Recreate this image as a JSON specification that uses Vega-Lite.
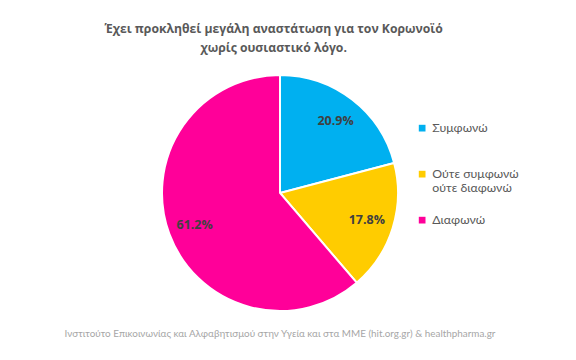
{
  "$schema": "https://vega.github.io/schema/vega-lite/v6.json",
  "padding": {"left": 64, "top": 22, "right": 0, "bottom": 0},
  "title": {
    "text": ["Έχει προκληθεί μεγάλη αναστάτωση για τον Κορωνοϊό", "χωρίς ουσιαστικό λόγο."],
    "font": "Open Sans",
    "fontSize": 12.2,
    "fontWeight": "bold",
    "color": "#595959",
    "lineHeight": 19,
    "anchor": "middle",
    "offset": 17,
    "dx": -18
  },
  "data": {
    "values": [
      {"answer": "Συμφωνώ", "pct": 20.9, "label": "20.9%", "order": 1, "src": "Ινστιτούτο Επικοινωνίας και Αλφαβητισμού στην Υγεία και στα ΜΜΕ (hit.org.gr) & healthpharma.gr"},
      {"answer": "Ούτε συμφωνώ ούτε διαφωνώ", "pct": 17.8, "label": "17.8%", "order": 2, "src": "Ινστιτούτο Επικοινωνίας και Αλφαβητισμού στην Υγεία και στα ΜΜΕ (hit.org.gr) & healthpharma.gr"},
      {"answer": "Διαφωνώ", "pct": 61.2, "label": "61.2%", "order": 3, "src": "Ινστιτούτο Επικοινωνίας και Αλφαβητισμού στην Υγεία και στα ΜΜΕ (hit.org.gr) & healthpharma.gr"}
    ]
  },
  "facet": {
    "column": {
      "field": "src",
      "type": "nominal",
      "header": {
        "title": null,
        "labelOrient": "bottom",
        "labelFont": "Lato",
        "labelFontSize": 9.9,
        "labelColor": "#A6A6A6",
        "labelPadding": 14,
        "labelLimit": 600
      }
    }
  },
  "spec": {
    "width": 236,
    "height": 236,
    "encoding": {
      "theta": {"field": "pct", "type": "quantitative", "stack": true},
      "order": {"field": "order", "type": "quantitative"},
      "color": {
        "field": "answer",
        "type": "nominal",
        "scale": {
          "domain": ["Συμφωνώ", "Ούτε συμφωνώ ούτε διαφωνώ", "Διαφωνώ"],
          "range": ["#00B0F0", "#FFCC00", "#FF0099"]
        },
        "legend": {
          "title": null,
          "orient": "none",
          "legendX": 254,
          "legendY": 47,
          "symbolType": "square",
          "symbolSize": 45,
          "symbolStrokeWidth": 0,
          "labelFont": "Lato",
          "labelFontSize": 12.3,
          "labelColor": "#595959",
          "labelLimit": 200,
          "labelOffset": 4,
          "rowPadding": 19,
          "labelExpr": "datum.label == 'Ούτε συμφωνώ ούτε διαφωνώ' ? ['Ούτε συμφωνώ', 'ούτε διαφωνώ'] : [datum.label, ' ']"
        }
      }
    },
    "layer": [
      {
        "mark": {"type": "arc", "outerRadius": 118, "stroke": "white", "strokeWidth": 2}
      },
      {
        "mark": {"type": "text", "radius": 91, "font": "Open Sans", "fontSize": 12.5, "fontWeight": "bold", "fill": "#404040"},
        "encoding": {
          "text": {"field": "label", "type": "nominal"},
          "color": {"value": "#404040"}
        }
      }
    ]
  },
  "config": {"view": {"stroke": null}}
}
